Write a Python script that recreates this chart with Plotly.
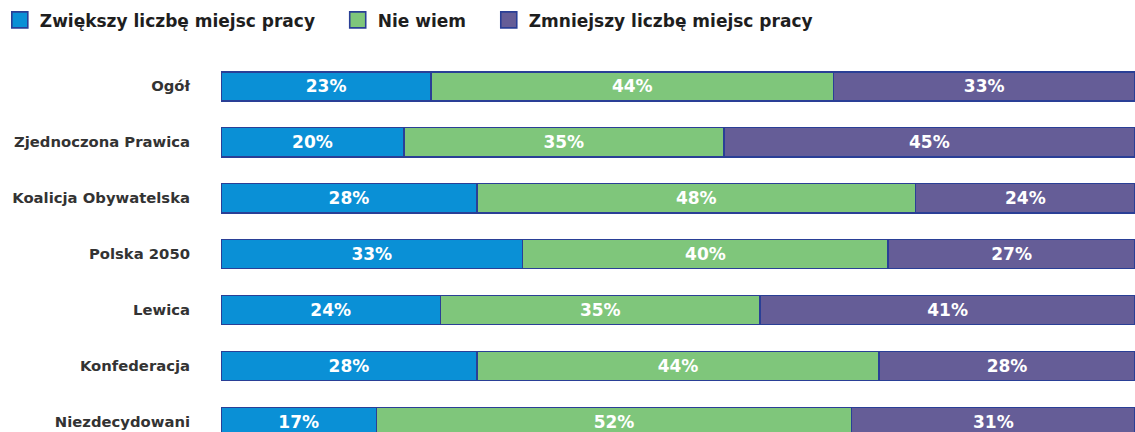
import plotly.graph_objects as go

categories = ["Ogół", "Zjednoczona Prawica", "Koalicja Obywatelska", "Polska 2050",
              "Lewica", "Konfederacja", "Niezdecydowani"]
series_names = ["Zwiększy liczbę miejsc pracy", "Nie wiem", "Zmniejszy liczbę miejsc pracy"]
zwiekszy = [23, 20, 28, 33, 24, 28, 17]
nie_wiem = [44, 35, 48, 40, 35, 44, 52]
zmniejszy = [33, 45, 24, 27, 41, 28, 31]

colors = ["#0A90D6", "#7FC67B", "#655D97"]
outline = "#2A3F96"
FONT = "DejaVu Sans"
PAD = "\u00a0" * 3

fig = go.Figure()
for name, vals, col in zip(series_names, [zwiekszy, nie_wiem, zmniejszy], colors):
    fig.add_trace(go.Bar(
        y=categories, x=vals, orientation="h", name=name, showlegend=False,
        marker=dict(color=col, line=dict(color=outline, width=1.6)),
        width=0.52,
        text=[f"{v}%" for v in vals], textposition="inside",
        insidetextanchor="middle",
        textfont=dict(family=FONT, size=17, color="white", weight="bold"),
        hoverinfo="skip",
    ))
    fig.add_trace(go.Scatter(
        x=[None], y=[None], mode="markers", name=name + PAD,
        marker=dict(symbol="square", size=16, color=col, line=dict(color=outline, width=1.6)),
    ))

fig.update_layout(
    width=1135, height=432,
    barmode="stack",
    margin=dict(l=221, r=0, t=60, b=0, autoexpand=False),
    plot_bgcolor="white", paper_bgcolor="white",
    font=dict(family=FONT, color="#2a2a2a"),
    legend=dict(orientation="h", traceorder="normal",
                x=-0.242, xanchor="left", y=1.155, yanchor="top",
                font=dict(family=FONT, size=17, color="#1e1e1e", weight="bold"),
                itemclick=False),
    xaxis=dict(range=[0, 100], visible=False, fixedrange=True),
    yaxis=dict(categoryorder="array", categoryarray=categories, automargin=False,
               range=[6.18, -0.47], showgrid=False, zeroline=False, showline=False,
               ticks="", ticklabelstandoff=30, fixedrange=True,
               tickfont=dict(family=FONT, size=14.8, color="#333333", weight="bold")),
    uniformtext=dict(mode=False),
)

fig.write_html("out.html", config={"displayModeBar": False},
               post_script="document.body.style.margin='0';")
